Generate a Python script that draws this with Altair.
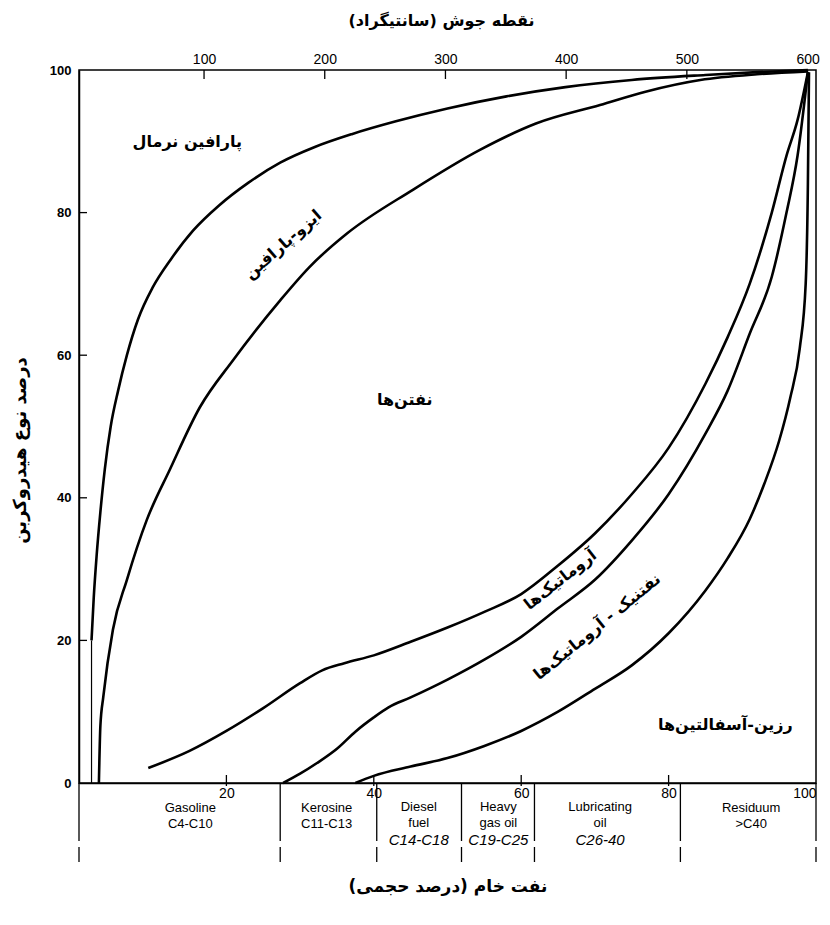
import altair as alt
import pandas as pd

# ---- curve data (x: crude oil vol %, y: hydrocarbon type %) ----
c1_x = [1.7, 2.0, 2.4, 2.9, 3.5, 4.3, 5.3, 6.5, 8.0, 10.0, 12.5, 15.5, 19, 23, 27.3, 32, 37, 43, 50, 58, 66, 75, 85, 92, 98.9]
c1_y = [20, 26, 32, 38, 44, 50, 55, 60, 65, 69.5, 73.5, 77.5, 81, 84.2, 87, 89.2, 91, 92.8, 94.6, 96.3, 97.6, 98.6, 99.3, 99.7, 100]

c2_x = [2.7, 2.9, 3.3, 4.6, 6.5, 9.2, 12.3, 16.4, 20.9, 27.3, 31.3, 36.4, 45.3, 54.4, 62, 70.7, 77, 84.3, 92, 98.9]
c2_y = [0, 8, 12.1, 21.5, 28.5, 36.9, 43.9, 52.7, 59.3, 67.7, 72.4, 77.1, 83.2, 88.8, 92.5, 95.1, 97, 98.6, 99.4, 99.8]

c3_x = [9.4, 15, 20, 25, 30, 33, 36, 40, 45, 50, 55, 60, 65, 70, 75, 80, 85, 88, 91, 94, 96, 97.5, 98.9]
c3_y = [2.1, 4.5, 7.3, 10.5, 14, 15.8, 16.8, 17.9, 19.8, 21.8, 24, 26.5, 30.5, 35, 40.5, 47, 56, 62.5, 70, 80, 88, 93, 99.7]

c4_x = [27.7, 30, 32.3, 35, 37.5, 40, 42, 45, 50, 55, 60, 65, 70, 75, 80, 85, 88, 91, 94, 96, 97.5, 98.9]
c4_y = [0, 1.3, 2.8, 4.8, 7.2, 9.2, 10.6, 12, 14.5, 17.3, 20.5, 24.5, 28.5, 34, 40.5, 49, 55, 63, 71, 80, 88, 99.7]

c5_x = [37.5, 40, 45, 50, 55, 60, 65, 70, 75, 80, 85, 88, 91, 93, 95, 96.5, 97.8, 98.6, 98.9, 99.05]
c5_y = [0, 1, 2.3, 3.5, 5.2, 7.3, 10, 13.2, 16.5, 21, 27, 31.5, 37, 42, 48, 54, 61, 70, 84, 99.7]

# thin start of the first curve
stub_x = [1.7]
stub_y = [0]
stub_y2 = [20]

# ---- axes ----
x_ticks = [20, 40, 60, 80, 100]
y_ticks = [0, 20, 40, 60, 80, 100]
y_inner_ticks = [20, 40, 60, 80]
x_inner_ticks = [20, 40, 60, 80]
bp_ticks = [100, 200, 300, 400, 500, 600]
bp_domain = [-3.6, 607]

# ---- fractions below the axis ----
dividers = [0, 27.3, 40.4, 51.9, 61.8, 81.6, 100]
frac2_x = [15.1, 33.6, 91.2]
frac2_name = ["Gasoline", "Kerosine", "Residuum"]
frac2_range = ["C4-C10", "C11-C13", ">C40"]
frac3_x = [46.1, 56.9, 70.7]
frac3_name = ["Diesel\nfuel", "Heavy\ngas oil", "Lubricating\noil"]
frac3_range = ["C14-C18", "C19-C25", "C26-40"]

# ---- region labels ----
lab_text = ["پارافین نرمال", "ایزو-پارافین", "نفتن‌ها", "آروماتیک‌ها", "نفتنیک - آروماتیک‌ها", "رزین-آسفالتین‌ها"]
lab_x = [14.7, 27.7, 44.2, 65.3, 70.3, 87.7]
lab_y = [89.9, 75.5, 53.7, 28.5, 21.9, 8.1]
lab_angle = [0, 319, 0, 322, 321, 0]

W, H = 737, 713
FA = "DejaVu Sans"
FL = "Liberation Sans"

rows = []
for name, xs, ys in [("c1", c1_x, c1_y), ("c2", c2_x, c2_y), ("c3", c3_x, c3_y), ("c4", c4_x, c4_y), ("c5", c5_x, c5_y)]:
    for i, (a, b) in enumerate(zip(xs, ys)):
        rows.append({"curve": name, "idx": i, "x": a, "y": b})
curves_df = pd.DataFrame(rows)

xscale = alt.Scale(domain=[0, 100], nice=False, zero=False)
yscale = alt.Scale(domain=[0, 100], nice=False, zero=False)

x_axis = alt.Axis(values=x_ticks, ticks=False, grid=False, domainColor="black", domainWidth=1.5,
                  labelFont=FL, labelFontSize=14, labelColor="black", labelPadding=3,
                  title="نفت خام (درصد حجمی)", titleFont=FA, titleFontSize=17, titleFontWeight="bold",
                  titleColor="black", titleY=103, titleBaseline="middle")
y_axis = alt.Axis(values=y_ticks, ticks=False, grid=False, domainColor="black", domainWidth=1.5,
                  labelFont=FL, labelFontSize=13, labelFontWeight="bold", labelColor="black", labelPadding=8,
                  title="درصد نوع هیدروکربن", titleFont=FA, titleFontSize=18, titleFontWeight="bold",
                  titleColor="black", titleX=-59, titleY=380, titleAngle=270, titleBaseline="middle")

def XE(field="x"):
    return alt.X(f"{field}:Q", scale=xscale, axis=x_axis, title="نفت خام (درصد حجمی)")

def YE(field="y"):
    return alt.Y(f"{field}:Q", scale=yscale, axis=y_axis, title="درصد نوع هیدروکربن")

curves = alt.Chart(curves_df).mark_line(color="black", strokeWidth=2.6, interpolate="monotone").encode(
    x=XE(), y=YE(), detail="curve:N", order="idx:Q")

stub = alt.Chart(pd.DataFrame({"x": stub_x, "y": stub_y, "y2": stub_y2})).mark_rule(color="black", strokeWidth=1.2).encode(
    x=XE(), y=YE(), y2="y2:Q")

left_ticks = alt.Chart(pd.DataFrame({"y": y_inner_ticks})).mark_rule(color="black", strokeWidth=1.3).encode(
    y=YE(), x=alt.value(0), x2=alt.value(8))

bottom_ticks = alt.Chart(pd.DataFrame({"x": x_inner_ticks})).mark_rule(color="black", strokeWidth=1.3).encode(
    x=XE(), y=alt.value(H - 8), y2=alt.value(H + 3))

div = alt.Chart(pd.DataFrame({"x": dividers})).mark_rule(color="black", strokeWidth=1.3, strokeDash=[58, 6]).encode(
    x=XE(), y=alt.value(H), y2=alt.value(H + 79))

f2n = alt.Chart(pd.DataFrame({"x": frac2_x, "t": frac2_name})).mark_text(
    font=FL, fontSize=13, baseline="top", align="center", color="black").encode(
    x=XE(), y=alt.value(H + 19), text="t:N")
f2r = alt.Chart(pd.DataFrame({"x": frac2_x, "t": frac2_range})).mark_text(
    font=FL, fontSize=13, baseline="top", align="center", color="black").encode(
    x=XE(), y=alt.value(H + 35), text="t:N")
f3n = alt.Chart(pd.DataFrame({"x": frac3_x, "t": frac3_name})).mark_text(
    font=FL, fontSize=13, baseline="top", align="center", color="black", lineBreak="\n", lineHeight=16).encode(
    x=XE(), y=alt.value(H + 18), text="t:N")
f3r = alt.Chart(pd.DataFrame({"x": frac3_x, "t": frac3_range})).mark_text(
    font=FL, fontSize=15, fontStyle="italic", baseline="top", align="center", color="black").encode(
    x=XE(), y=alt.value(H + 50), text="t:N")

labels = alt.Chart(pd.DataFrame({"x": lab_x, "y": lab_y, "t": lab_text, "a": lab_angle})).mark_text(
    font=FA, fontSize=16, fontWeight="bold", align="center", baseline="middle", color="black").encode(
    x=XE(), y=YE(), text="t:N", angle=alt.Angle("a:Q", scale=None))

main = alt.layer(curves, stub, left_ticks, bottom_ticks, div, f2n, f2r, f3n, f3r, labels)

top = alt.Chart(pd.DataFrame({"bp": bp_ticks})).mark_rule(color="black", strokeWidth=1.3).encode(
    x=alt.X("bp:Q", scale=alt.Scale(domain=bp_domain, nice=False, zero=False),
            axis=alt.Axis(orient="top", values=bp_ticks, ticks=False, domain=False, grid=False,
                          labelFont=FL, labelFontSize=14, labelColor="black", labelPadding=4,
                          title="نقطه جوش (سانتیگراد)", titleFont=FA, titleFontSize=16, titleFontWeight="bold",
                          titleColor="black", titleY=-50, titleX=362, titleBaseline="middle")),
    y=alt.value(0), y2=alt.value(9))

chart = alt.layer(main, top).resolve_scale(x="independent").properties(
    width=W, height=H,
    autosize=alt.AutoSizeParams(type="none"),
    padding={"left": 71, "top": 62, "right": 6, "bottom": 135},
    background="white",
).configure_view(stroke="black", strokeWidth=1.5)

chart.save("out.html", embed_options={"renderer": "svg", "actions": False})
